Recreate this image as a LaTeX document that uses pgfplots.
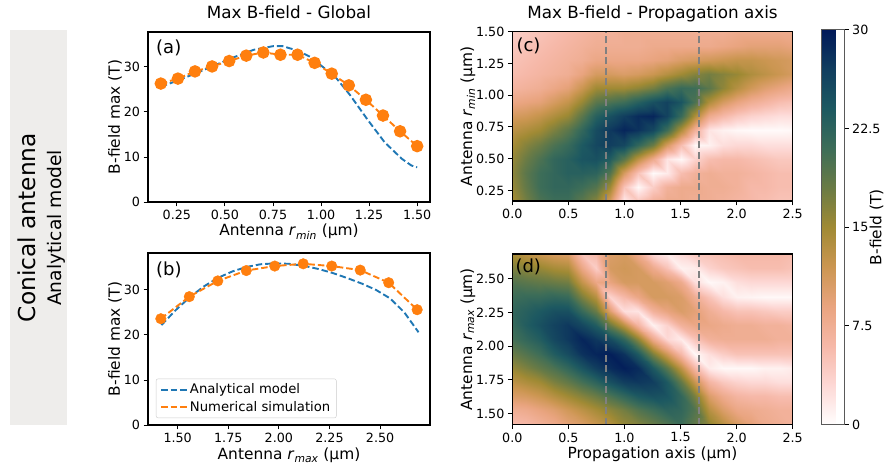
\documentclass[border=0pt]{standalone}
\usepackage{fontspec}
\setmainfont{DejaVu Sans}
\usepackage{pgfplots}
\pgfplotsset{compat=1.18}

\definecolor{mplblue}{HTML}{1F77B4}
\definecolor{mplorange}{HTML}{FF7F0E}
\definecolor{panelgrey}{HTML}{EEEDEB}
\definecolor{guide}{HTML}{808080}

\tikzset{panel/.style={anchor=north west, inner sep=0pt, font=\fontsize{18}{20}\selectfont}}
\pgfplotsset{
  colormap={batlowWr}{rgb255=(255,254,254) rgb255=(253,216,213) rgb255=(246,184,168)
    rgb255=(233,164,127) rgb255=(203,150,81) rgb255=(160,138,52) rgb255=(106,123,69)
    rgb255=(61,109,88) rgb255=(29,89,97) rgb255=(17,62,95) rgb255=(1,25,89)},
  fig/.style={
    scale only axis, anchor=south west,
    axis line style={line width=1.1pt},
    tick style={line width=0.9pt, black},
    major tick length=4.4pt, tick align=outside,
    xtick pos=left, ytick pos=left,
    tick label style={font=\fontsize{12.7}{14}\selectfont},
    label style={font=\fontsize{15.4}{17}\selectfont},
    title style={font=\fontsize{16.8}{19}\selectfont, anchor=base, at={(0.5,1)}, yshift=7pt},
    /pgf/number format/assume math mode=true,
    xlabel style={at={(axis description cs:0.5,0)}, anchor=base, yshift=-34pt},
  },
  blueline/.style={mplblue, line width=1.9pt, dash pattern=on 6.5pt off 3pt},
  orangeline/.style={mplorange, line width=1.9pt, dash pattern=on 6.5pt off 3pt},
  vguide/.style={guide, line width=2.4pt, dash pattern=on 7pt off 3.5pt},
  heat/.style={fig, axis on top, colormap name=batlowWr, point meta min=0, point meta max=30,
    xmin=0, xmax=2.5, xtick={0,0.5,1,1.5,2,2.5},
    xticklabel style={/pgf/number format/.cd, fixed, fixed zerofill, precision=1},
    yticklabel style={/pgf/number format/.cd, fixed, fixed zerofill, precision=2},
    ylabel style={at={(axis description cs:-0.1437,0.5)}, anchor=base}},
}

\begin{document}
\begin{tikzpicture}
\path[use as bounding box] (0pt,0pt) rectangle (884pt,468pt);
\fill[panelgrey] (10pt,43pt) rectangle (67pt,438pt);
\node[rotate=90, anchor=base, inner sep=0pt, font=\fontsize{23.3}{26}\selectfont] at (35pt,240.5pt) {Conical antenna};
\node[rotate=90, anchor=base, inner sep=0pt, font=\fontsize{18.7}{21}\selectfont] at (61pt,240pt) {Analytical model};

% (a) max field vs r_min
\begin{axis}[fig, at={(148pt,266pt)}, width=282pt, height=170pt,
  xmin=0.1, xmax=1.5667, ymin=0, ymax=37.75,
  xtick={0.25,0.5,0.75,1,1.25,1.5}, ytick={0,10,20,30},
  xticklabel style={/pgf/number format/.cd, fixed, fixed zerofill, precision=2},
  xlabel={Antenna \textit{r}\textsubscript{\textit{min}} (µm)},
  ylabel={B-field max (T)},
  ylabel style={at={(axis description cs:-0.0993,0.5)}, anchor=base},
  title={Max B-field - Global}]
\addplot[blueline] coordinates {
  (0.1667,25.6) (0.25,26.9) (0.35,28.6) (0.45,30.4) (0.55,32.2) (0.65,33.8)
  (0.75,34.6) (0.80,34.6) (0.88,33.6) (0.95,32.1) (1.00,30.3) (1.07,28.0)
  (1.15,23.8) (1.24,18.4) (1.33,13.3) (1.42,9.6) (1.47,8.1) (1.50,7.7)};
\addplot[orangeline, mark=*, mark size=5.3pt, mark options={solid, fill=mplorange, draw=mplorange}] coordinates {
  (0.1667,26.3) (0.2556,27.4) (0.3444,29.0) (0.4333,30.1) (0.5222,31.3) (0.6111,32.5)
  (0.7000,33.2) (0.7889,32.7) (0.8778,32.7) (0.9667,30.9) (1.0556,28.5) (1.1444,25.9)
  (1.2333,22.7) (1.3222,19.2) (1.4111,15.7) (1.5000,12.4)};
\node[panel, xshift=8pt, yshift=-8pt] at (axis description cs:0,1) {(a)};
\end{axis}

% (b) max field vs r_max
\begin{axis}[fig, at={(148pt,43pt)}, width=282pt, height=172pt,
  xmin=1.3533, xmax=2.7467, ymin=0, ymax=38.2,
  xtick={1.5,1.75,2,2.25,2.5,2.75}, ytick={0,10,20,30},
  xticklabel style={/pgf/number format/.cd, fixed, fixed zerofill, precision=2},
  xlabel={Antenna \textit{r}\textsubscript{\textit{max}} (µm)},
  xlabel style={yshift=-1pt},
  ylabel={B-field max (T)},
  ylabel style={at={(axis description cs:-0.0993,0.5)}, anchor=base},
  legend style={at={(0.028,0.04)}, anchor=south west, font=\fontsize{13.2}{15}\selectfont,
    draw=black!20, rounded corners=2pt, fill=white, fill opacity=0.8, text opacity=1,
    inner xsep=4pt, inner ysep=3pt, row sep=2pt},
  legend cell align=left,
  legend image code/.code={\draw[#1] (0pt,0pt) -- (26pt,0pt);}]
\addplot[blueline] coordinates {
  (1.42,22.2) (1.49,25.5) (1.56,28.4) (1.63,30.8) (1.70,32.7) (1.77,34.1)
  (1.84,35.1) (1.91,35.7) (1.98,35.9) (2.05,35.8) (2.13,35.3) (2.20,34.6)
  (2.27,33.7) (2.34,32.6) (2.41,31.4) (2.48,30.0) (2.55,28.1) (2.62,25.0) (2.69,20.6)};
\addlegendentry{Analytical model}
\addplot[orangeline] coordinates {
  (1.4167,23.6) (1.5574,28.5) (1.6981,32.0) (1.8389,34.3) (1.9796,35.3)
  (2.1204,35.8) (2.2611,35.3) (2.4019,34.4) (2.5426,31.6) (2.6833,25.6)};
\addlegendentry{Numerical simulation}
\addplot[only marks, mark=*, mark size=5.3pt, mplorange, forget plot] coordinates {
  (1.4167,23.6) (1.5574,28.5) (1.6981,32.0) (1.8389,34.3) (1.9796,35.3)
  (2.1204,35.8) (2.2611,35.3) (2.4019,34.4) (2.5426,31.6) (2.6833,25.6)};
\node[panel, xshift=8pt, yshift=-9pt] at (axis description cs:0,1) {(b)};
\end{axis}

% (c) field on the propagation axis vs r_min
\begin{axis}[heat, at={(512.3pt,267pt)}, width=280.4pt, height=169.3pt,
  ymin=0.1667, ymax=1.5, ytick={0.25,0.5,0.75,1,1.25,1.5},
  ylabel={Antenna \textit{r}\textsubscript{\textit{min}} (µm)},
  title={Max B-field - Propagation axis}]
\addplot[surf, shader=interp, mesh/cols=21, point meta=explicit] coordinates {
(0,0.1667)[14.5] (0.125,0.1667)[17.5] (0.25,0.1667)[20] (0.375,0.1667)[21] (0.5,0.1667)[21] (0.625,0.1667)[19] (0.75,0.1667)[16.5] (0.875,0.1667)[11] (1,0.1667)[1.5] (1.125,0.1667)[4.5] (1.25,0.1667)[7] (1.375,0.1667)[8] (1.5,0.1667)[8] (1.625,0.1667)[7.5] (1.75,0.1667)[7.5] (1.875,0.1667)[7] (2,0.1667)[6.5] (2.125,0.1667)[6] (2.25,0.1667)[5.5] (2.375,0.1667)[5] (2.5,0.1667)[5]
(0,0.2778)[15.5] (0.125,0.2778)[18.5] (0.25,0.2778)[21] (0.375,0.2778)[22] (0.5,0.2778)[22] (0.625,0.2778)[21] (0.75,0.2778)[19.5] (0.875,0.2778)[15] (1,0.2778)[5] (1.125,0.2778)[0.5] (1.25,0.2778)[4] (1.375,0.2778)[7] (1.5,0.2778)[8] (1.625,0.2778)[8] (1.75,0.2778)[7.5] (1.875,0.2778)[7.5] (2,0.2778)[7] (2.125,0.2778)[6] (2.25,0.2778)[6] (2.375,0.2778)[5.5] (2.5,0.2778)[5.5]
(0,0.3889)[16] (0.125,0.3889)[19] (0.25,0.3889)[21] (0.375,0.3889)[22] (0.5,0.3889)[23] (0.625,0.3889)[23] (0.75,0.3889)[22.5] (0.875,0.3889)[19.5] (1,0.3889)[11] (1.125,0.3889)[5] (1.25,0.3889)[0.3] (1.375,0.3889)[1.5] (1.5,0.3889)[5.5] (1.625,0.3889)[7] (1.75,0.3889)[7.5] (1.875,0.3889)[7] (2,0.3889)[7] (2.125,0.3889)[6.5] (2.25,0.3889)[6] (2.375,0.3889)[5.5] (2.5,0.3889)[5.5]
(0,0.5)[15.5] (0.125,0.5)[18] (0.25,0.5)[20] (0.375,0.5)[22] (0.5,0.5)[23] (0.625,0.5)[24.5] (0.75,0.5)[25] (0.875,0.5)[23.5] (1,0.5)[19] (1.125,0.5)[13] (1.25,0.5)[8] (1.375,0.5)[2] (1.5,0.5)[0.5] (1.625,0.5)[3.5] (1.75,0.5)[5.5] (1.875,0.5)[6] (2,0.5)[6] (2.125,0.5)[5.5] (2.25,0.5)[5] (2.375,0.5)[4.5] (2.5,0.5)[4.5]
(0,0.6111)[14.5] (0.125,0.6111)[16.5] (0.25,0.6111)[18] (0.375,0.6111)[20] (0.5,0.6111)[21.5] (0.625,0.6111)[24] (0.75,0.6111)[26] (0.875,0.6111)[27] (1,0.6111)[26] (1.125,0.6111)[22] (1.25,0.6111)[18] (1.375,0.6111)[11] (1.5,0.6111)[5.5] (1.625,0.6111)[0.5] (1.75,0.6111)[1] (1.875,0.6111)[2.5] (2,0.6111)[3] (2.125,0.6111)[3] (2.25,0.6111)[2.5] (2.375,0.6111)[2.5] (2.5,0.6111)[2.5]
(0,0.7222)[13] (0.125,0.7222)[14] (0.25,0.7222)[15] (0.375,0.7222)[17] (0.5,0.7222)[19] (0.625,0.7222)[22] (0.75,0.7222)[25.5] (0.875,0.7222)[27.5] (1,0.7222)[29] (1.125,0.7222)[28] (1.25,0.7222)[26] (1.375,0.7222)[21] (1.5,0.7222)[14] (1.625,0.7222)[7] (1.75,0.7222)[2] (1.875,0.7222)[1] (2,0.7222)[0.5] (2.125,0.7222)[0.3] (2.25,0.7222)[0.3] (2.375,0.7222)[0.3] (2.5,0.7222)[0.5]
(0,0.8333)[11] (0.125,0.8333)[11.5] (0.25,0.8333)[12.5] (0.375,0.8333)[14] (0.5,0.8333)[15.5] (0.625,0.8333)[19] (0.75,0.8333)[23] (0.875,0.8333)[25] (1,0.8333)[27] (1.125,0.8333)[28.5] (1.25,0.8333)[29] (1.375,0.8333)[26.5] (1.5,0.8333)[21.5] (1.625,0.8333)[14] (1.75,0.8333)[8] (1.875,0.8333)[6] (2,0.8333)[4.5] (2.125,0.8333)[3.5] (2.25,0.8333)[3] (2.375,0.8333)[2.5] (2.5,0.8333)[2.5]
(0,0.9444)[8.5] (0.125,0.9444)[9] (0.25,0.9444)[9.5] (0.375,0.9444)[11] (0.5,0.9444)[12.5] (0.625,0.9444)[15.5] (0.75,0.9444)[19] (0.875,0.9444)[20] (1,0.9444)[21] (1.125,0.9444)[23] (1.25,0.9444)[25] (1.375,0.9444)[26.5] (1.5,0.9444)[24.5] (1.625,0.9444)[20] (1.75,0.9444)[14] (1.875,0.9444)[11] (2,0.9444)[9] (2.125,0.9444)[7.5] (2.25,0.9444)[6.5] (2.375,0.9444)[5.5] (2.5,0.9444)[5]
(0,1.0556)[6.5] (0.125,1.0556)[7] (0.25,1.0556)[7.5] (0.375,1.0556)[8.5] (0.5,1.0556)[9.5] (0.625,1.0556)[12] (0.75,1.0556)[15] (0.875,1.0556)[15] (1,1.0556)[15] (1.125,1.0556)[16] (1.25,1.0556)[17.5] (1.375,1.0556)[20] (1.5,1.0556)[21.5] (1.625,1.0556)[21] (1.75,1.0556)[19] (1.875,1.0556)[16] (2,1.0556)[13.5] (2.125,1.0556)[11.5] (2.25,1.0556)[10] (2.375,1.0556)[9] (2.5,1.0556)[8]
(0,1.1667)[5.5] (0.125,1.1667)[6] (0.25,1.1667)[6.5] (0.375,1.1667)[7] (0.5,1.1667)[7.5] (0.625,1.1667)[9] (0.75,1.1667)[11] (0.875,1.1667)[11] (1,1.1667)[10.5] (1.125,1.1667)[11] (1.25,1.1667)[12] (1.375,1.1667)[13.5] (1.5,1.1667)[15] (1.625,1.1667)[16.5] (1.75,1.1667)[17.5] (1.875,1.1667)[16.5] (2,1.1667)[15.5] (2.125,1.1667)[14] (2.25,1.1667)[13] (2.375,1.1667)[12] (2.5,1.1667)[11]
(0,1.2778)[5] (0.125,1.2778)[5.5] (0.25,1.2778)[6] (0.375,1.2778)[6.5] (0.5,1.2778)[7] (0.625,1.2778)[7.5] (0.75,1.2778)[8.5] (0.875,1.2778)[8.5] (1,1.2778)[8.5] (1.125,1.2778)[8.5] (1.25,1.2778)[9] (1.375,1.2778)[9.5] (1.5,1.2778)[10.5] (1.625,1.2778)[11] (1.75,1.2778)[11.5] (1.875,1.2778)[12] (2,1.2778)[12.5] (2.125,1.2778)[12.5] (2.25,1.2778)[12] (2.375,1.2778)[11.5] (2.5,1.2778)[11]
(0,1.3889)[4.5] (0.125,1.3889)[5] (0.25,1.3889)[5.5] (0.375,1.3889)[6] (0.5,1.3889)[6.5] (0.625,1.3889)[7] (0.75,1.3889)[7.5] (0.875,1.3889)[7.5] (1,1.3889)[7.5] (1.125,1.3889)[7.5] (1.25,1.3889)[8] (1.375,1.3889)[8] (1.5,1.3889)[8] (1.625,1.3889)[8] (1.75,1.3889)[8] (1.875,1.3889)[8.5] (2,1.3889)[9] (2.125,1.3889)[9.5] (2.25,1.3889)[9.5] (2.375,1.3889)[9.5] (2.5,1.3889)[9]
(0,1.5)[4] (0.125,1.5)[4.5] (0.25,1.5)[5] (0.375,1.5)[5.5] (0.5,1.5)[6] (0.625,1.5)[6.5] (0.75,1.5)[7] (0.875,1.5)[7] (1,1.5)[7.5] (1.125,1.5)[7.5] (1.25,1.5)[7.5] (1.375,1.5)[7.5] (1.5,1.5)[7.5] (1.625,1.5)[7.5] (1.75,1.5)[7.5] (1.875,1.5)[7.5] (2,1.5)[8] (2.125,1.5)[8] (2.25,1.5)[8] (2.375,1.5)[8] (2.5,1.5)[8]
};
\addplot[vguide] coordinates {(0.8333,0.1667) (0.8333,1.5)};
\addplot[vguide] coordinates {(1.6667,0.1667) (1.6667,1.5)};
\node[panel, xshift=4pt, yshift=-6pt] at (axis description cs:0,1) {(c)};
\end{axis}

% (d) field on the propagation axis vs r_max
\begin{axis}[heat, at={(512.3pt,43.3pt)}, width=280.4pt, height=170.7pt,
  ymin=1.4167, ymax=2.6833, ytick={1.5,1.75,2,2.25,2.5},
  ylabel={Antenna \textit{r}\textsubscript{\textit{max}} (µm)},
  xlabel={Propagation axis (µm)},
  colorbar,
  colorbar style={at={(parent axis.south east)}, anchor=south west, xshift=20pt,
    scale only axis, width=23pt, height=395pt,
    axis line style={line width=1pt, black!65},
    tick style={line width=0.9pt, black}, major tick length=4.4pt, tick align=outside,
    ytick pos=right, yticklabel pos=right, xtick=\empty,
    ytick={0,7.5,15,22.5,30}, yticklabels={0,7.5,15,22.5,30},
    tick label style={font=\fontsize{12.7}{14}\selectfont},
    ylabel={B-field (T)},
    ylabel style={font=\fontsize{15.4}{17}\selectfont, at={(axis description cs:2.61,0.5)}, anchor=base}}]
\addplot[surf, shader=interp, mesh/cols=21, point meta=explicit] coordinates {
(0,1.4167)[5.5] (0.125,1.4167)[6] (0.25,1.4167)[7] (0.375,1.4167)[8] (0.5,1.4167)[9.5] (0.625,1.4167)[10.5] (0.75,1.4167)[12] (0.875,1.4167)[13.5] (1,1.4167)[15.5] (1.125,1.4167)[16.5] (1.25,1.4167)[18] (1.375,1.4167)[19.5] (1.5,1.4167)[21] (1.625,1.4167)[18.5] (1.75,1.4167)[16] (1.875,1.4167)[13.5] (2,1.4167)[11] (2.125,1.4167)[9.5] (2.25,1.4167)[8] (2.375,1.4167)[7.5] (2.5,1.4167)[7]
(0,1.5222)[7.5] (0.125,1.5222)[8] (0.25,1.5222)[9] (0.375,1.5222)[10] (0.5,1.5222)[11.5] (0.625,1.5222)[13] (0.75,1.5222)[14.5] (0.875,1.5222)[16] (1,1.5222)[17.5] (1.125,1.5222)[19.5] (1.25,1.5222)[21] (1.375,1.5222)[22.5] (1.5,1.5222)[22] (1.625,1.5222)[19.5] (1.75,1.5222)[13.5] (1.875,1.5222)[10.5] (2,1.5222)[8.5] (2.125,1.5222)[8] (2.25,1.5222)[7.5] (2.375,1.5222)[7] (2.5,1.5222)[7]
(0,1.6278)[10.5] (0.125,1.6278)[11] (0.25,1.6278)[12] (0.375,1.6278)[13.5] (0.5,1.6278)[15] (0.625,1.6278)[16.5] (0.75,1.6278)[18] (0.875,1.6278)[20] (1,1.6278)[22] (1.125,1.6278)[24] (1.25,1.6278)[25] (1.375,1.6278)[24.5] (1.5,1.6278)[22] (1.625,1.6278)[17] (1.75,1.6278)[10.5] (1.875,1.6278)[8] (2,1.6278)[6.5] (2.125,1.6278)[6] (2.25,1.6278)[6] (2.375,1.6278)[5.5] (2.5,1.6278)[5.5]
(0,1.7333)[13] (0.125,1.7333)[14] (0.25,1.7333)[15] (0.375,1.7333)[17] (0.5,1.7333)[18.5] (0.625,1.7333)[20.5] (0.75,1.7333)[22.5] (0.875,1.7333)[25] (1,1.7333)[27] (1.125,1.7333)[27.5] (1.25,1.7333)[27] (1.375,1.7333)[24] (1.5,1.7333)[18.5] (1.625,1.7333)[12] (1.75,1.7333)[6.5] (1.875,1.7333)[4.5] (2,1.7333)[3.5] (2.125,1.7333)[3] (2.25,1.7333)[3] (2.375,1.7333)[2.5] (2.5,1.7333)[2.5]
(0,1.8389)[15.5] (0.125,1.8389)[17] (0.25,1.8389)[18.5] (0.375,1.8389)[20] (0.5,1.8389)[22] (0.625,1.8389)[24.5] (0.75,1.8389)[27] (0.875,1.8389)[28.5] (1,1.8389)[29.5] (1.125,1.8389)[28.5] (1.25,1.8389)[24] (1.375,1.8389)[19] (1.5,1.8389)[13] (1.625,1.8389)[6] (1.75,1.8389)[1.5] (1.875,1.8389)[0.5] (2,1.8389)[0.5] (2.125,1.8389)[0.5] (2.25,1.8389)[1] (2.375,1.8389)[1] (2.5,1.8389)[1.5]
(0,1.9444)[18] (0.125,1.9444)[19.5] (0.25,1.9444)[21] (0.375,1.9444)[23.5] (0.5,1.9444)[25.5] (0.625,1.9444)[28] (0.75,1.9444)[29] (0.875,1.9444)[29.5] (1,1.9444)[28] (1.125,1.9444)[24] (1.25,1.9444)[17] (1.375,1.9444)[11.5] (1.5,1.9444)[6] (1.625,1.9444)[0.5] (1.75,1.9444)[2.5] (1.875,1.9444)[4] (2,1.9444)[5] (2.125,1.9444)[5] (2.25,1.9444)[5] (2.375,1.9444)[5] (2.5,1.9444)[5]
(0,2.05)[20.5] (0.125,2.05)[22] (0.25,2.05)[23.5] (0.375,2.05)[26] (0.5,2.05)[27.5] (0.625,2.05)[29] (0.75,2.05)[27.5] (0.875,2.05)[25.5] (1,2.05)[22] (1.125,2.05)[16] (1.25,2.05)[8] (1.375,2.05)[3] (1.5,2.05)[1.5] (1.625,2.05)[5] (1.75,2.05)[7] (1.875,2.05)[7.5] (2,2.05)[7.5] (2.125,2.05)[7.5] (2.25,2.05)[7.5] (2.375,2.05)[7] (2.5,2.05)[7]
(0,2.1556)[21.5] (0.125,2.1556)[23.5] (0.25,2.1556)[25] (0.375,2.1556)[26.5] (0.5,2.1556)[27.5] (0.625,2.1556)[26] (0.75,2.1556)[23.5] (0.875,2.1556)[18] (1,2.1556)[13] (1.125,2.1556)[6.5] (1.25,2.1556)[1] (1.375,2.1556)[3.5] (1.5,2.1556)[7] (1.625,2.1556)[8.5] (1.75,2.1556)[8.5] (1.875,2.1556)[8] (2,2.1556)[7.5] (2.125,2.1556)[7.5] (2.25,2.1556)[7] (2.375,2.1556)[7] (2.5,2.1556)[6.5]
(0,2.2611)[22] (0.125,2.2611)[23] (0.25,2.2611)[24] (0.375,2.2611)[25] (0.5,2.2611)[25] (0.625,2.2611)[21.5] (0.75,2.2611)[18] (0.875,2.2611)[10] (1,2.2611)[2.5] (1.125,2.2611)[2] (1.25,2.2611)[7] (1.375,2.2611)[9] (1.5,2.2611)[10.5] (1.625,2.2611)[9.5] (1.75,2.2611)[7.5] (1.875,2.2611)[6] (2,2.2611)[5] (2.125,2.2611)[5] (2.25,2.2611)[4.5] (2.375,2.2611)[4] (2.5,2.2611)[4]
(0,2.3667)[21] (0.125,2.3667)[21.5] (0.25,2.3667)[21.5] (0.375,2.3667)[22] (0.5,2.3667)[21.5] (0.625,2.3667)[17] (0.75,2.3667)[13.5] (0.875,2.3667)[3.5] (1,2.3667)[6] (1.125,2.3667)[8.5] (1.25,2.3667)[11] (1.375,2.3667)[11] (1.5,2.3667)[10.5] (1.625,2.3667)[7.5] (1.75,2.3667)[5] (1.875,2.3667)[2.5] (2,2.3667)[1] (2.125,2.3667)[0.8] (2.25,2.3667)[0.5] (2.375,2.3667)[0.5] (2.5,2.3667)[0.5]
(0,2.4722)[19.5] (0.125,2.4722)[19] (0.25,2.4722)[18.5] (0.375,2.4722)[18] (0.5,2.4722)[17.5] (0.625,2.4722)[12.5] (0.75,2.4722)[8.5] (0.875,2.4722)[9] (1,2.4722)[11] (1.125,2.4722)[11] (1.25,2.4722)[11] (1.375,2.4722)[10] (1.5,2.4722)[8] (1.625,2.4722)[2.5] (1.75,2.4722)[0.5] (1.875,2.4722)[1] (2,2.4722)[2.5] (2.125,2.4722)[3] (2.25,2.4722)[3] (2.375,2.4722)[3] (2.5,2.4722)[3]
(0,2.5778)[17] (0.125,2.5778)[16] (0.25,2.5778)[15.5] (0.375,2.5778)[14.5] (0.5,2.5778)[14] (0.625,2.5778)[8.5] (0.75,2.5778)[4] (0.875,2.5778)[11] (1,2.5778)[11.5] (1.125,2.5778)[11] (1.25,2.5778)[8] (1.375,2.5778)[5] (1.5,2.5778)[1] (1.625,2.5778)[1.5] (1.75,2.5778)[3.5] (1.875,2.5778)[4.5] (2,2.5778)[5] (2.125,2.5778)[5.5] (2.25,2.5778)[5.5] (2.375,2.5778)[5.5] (2.5,2.5778)[5]
(0,2.6833)[14.5] (0.125,2.6833)[13] (0.25,2.6833)[12] (0.375,2.6833)[11] (0.5,2.6833)[10.5] (0.625,2.6833)[5] (0.75,2.6833)[6] (0.875,2.6833)[10.5] (1,2.6833)[11] (1.125,2.6833)[8] (1.25,2.6833)[3] (1.375,2.6833)[1.5] (1.5,2.6833)[3] (1.625,2.6833)[4.5] (1.75,2.6833)[5] (1.875,2.6833)[5.5] (2,2.6833)[6] (2.125,2.6833)[6] (2.25,2.6833)[6] (2.375,2.6833)[6] (2.5,2.6833)[5.5]
};
\addplot[vguide] coordinates {(0.8333,1.4167) (0.8333,2.6833)};
\addplot[vguide] coordinates {(1.6667,1.4167) (1.6667,2.6833)};
\node[panel, xshift=3pt, yshift=-5pt] at (axis description cs:0,1) {(d)};
\end{axis}
\end{tikzpicture}
\end{document}
